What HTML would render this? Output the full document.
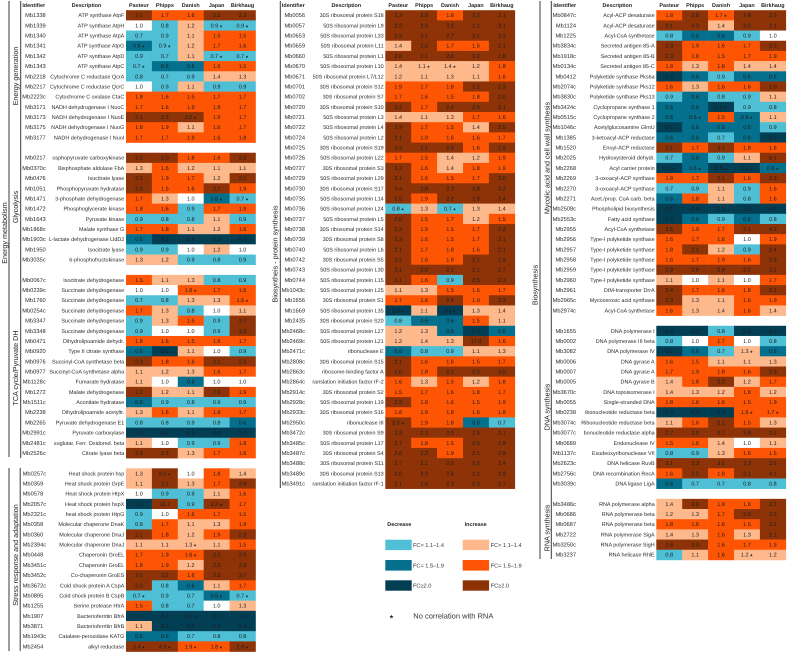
<!DOCTYPE html>
<html lang="en">
<head>
<meta charset="utf-8">
<title>Proteomic fold-change heatmap</title>
<style>
html,body{margin:0;padding:0;background:#fff;width:787px;height:653px;overflow:hidden}
svg{display:block;font-family:"Liberation Sans","DejaVu Sans",sans-serif;text-rendering:geometricPrecision}
.lbl{font-size:5.7px;fill:#2a2a2a}
.desc{font-size:5.45px;fill:#2a2a2a}
.val{font-size:5.5px;fill:#1c1c1c;text-anchor:middle}
.hdr{font-size:5.4px;font-weight:bold;fill:#222;text-anchor:middle}
.grp{font-size:7.2px;fill:#222;text-anchor:middle}
.leg{font-size:5.6px;fill:#333}
</style>
</head>
<body>
<svg id="chart" width="787" height="653" viewBox="0 0 787 653" xmlns="http://www.w3.org/2000/svg">
  <g stroke="#3a3a3a" stroke-width="1" fill="none">
    <line x1="9" y1="1" x2="9" y2="457"/>
    <line x1="20.7" y1="1" x2="20.7" y2="458"/>
    <line x1="9" y1="468" x2="9" y2="651"/>
    <line x1="20.2" y1="468" x2="20.2" y2="651"/>
    <line x1="280.3" y1="1" x2="280.3" y2="488"/>
    <line x1="540" y1="1" x2="540" y2="559"/>
    <line x1="551.3" y1="1" x2="551.3" y2="559"/>
  </g>
  <g>
    <text class="grp" transform="translate(18,76) rotate(-90)">Energy generation</text>
    <text class="grp" transform="translate(7,233) rotate(-90)">Energy metabolism</text>
    <text class="grp" transform="translate(18,207) rotate(-90)">Glycolysis</text>
    <text class="grp" transform="translate(18,368) rotate(-90)">TCA cycle/Pyruvate DH</text>
    <text class="grp" transform="translate(18,555) rotate(-90)">Stress response and adaptation</text>
    <text class="grp" transform="translate(277.5,254) rotate(-90)">Biosyntheis - protein synthesis</text>
    <text class="grp" transform="translate(537.5,285) rotate(-90)">Biosynthesis</text>
    <text class="grp" transform="translate(549.5,158) rotate(-90)">Mycolic acid and cell wall synthesis</text>
    <text class="grp" transform="translate(549.5,407) rotate(-90)">DNA synthesis</text>
    <text class="grp" transform="translate(549.5,528) rotate(-90)">RNA synthesis</text>
  </g>
  <g id="panels"></g>
  <g>
    <text class="hdr" style="text-anchor:start" x="387.3" y="526">Decrease</text>
    <text class="hdr" style="text-anchor:start" x="464.7" y="526">Increase</text>
    <rect x="385.3" y="539.7" width="26.4" height="10.4" fill="#4fbfd5"/>
    <rect x="385.3" y="560" width="26.4" height="10.6" fill="#05708e"/>
    <rect x="385.3" y="580.3" width="26.4" height="10.4" fill="#023f55"/>
    <rect x="462.7" y="539.7" width="26.4" height="10.4" fill="#fdb88c"/>
    <rect x="462.7" y="560" width="26.4" height="10.6" fill="#fe5504"/>
    <rect x="462.7" y="580.3" width="26.4" height="10.4" fill="#8e3307"/>
    <text class="leg" x="413" y="546.9">FC= 1.1–1.4</text>
    <text class="leg" x="413" y="567.3">FC= 1.5–1.9</text>
    <text class="leg" x="413" y="587.5">FC≥2.0</text>
    <text class="leg" x="490.7" y="546.9">FC= 1.1–1.4</text>
    <text class="leg" x="490.7" y="567.3">FC= 1.5–1.9</text>
    <text class="leg" x="490.7" y="587.5">FC≥2.0</text>
    <text x="389" y="618.5" font-size="5.5" fill="#222">★</text>
    <text x="413.3" y="618.5" font-size="7.5" fill="#333">No correlation with RNA</text>
  </g>
</svg>
<script>
const strainLabels = ["Pasteur", "Phipps", "Danish", "Japan", "Birkhaug"];

const panel1Ids = ["Mb1338","Mb1339","Mb1340","Mb1341","Mb1342","Mb1343","Mb2218","Mb2217","Mb2223c","Mb3171","Mb3173","Mb3175","Mb3177",null,
"Mb0217","Mb0370c","Mb0476","Mb1051","Mb1471","Mb1472","Mb1643","Mb1868c","Mb1903c","Mb1950","Mb3035c",null,
"Mb0067c","Mb0239c","Mb1760","Mb0254c","Mb3347","Mb3348","Mb0471","Mb0920","Mb0976","Mb0977","Mb1128c","Mb1272","Mb1511c","Mb2238","Mb2265","Mb2991c","Mb2481c","Mb2526c",null,
"Mb0257c","Mb0359","Mb0578","Mb2057c","Mb2321c","Mb0358","Mb0360","Mb2394c","Mb0448","Mb3451c","Mb3452c","Mb3672c","Mb0895","Mb1255","Mb1907","Mb3871","Mb1943c","Mb2454"];
const panel1Descriptions = ["ATP synthase AtpF","ATP synthase AtpH","ATP synthase AtpA","ATP synthase AtpG","ATP synthase AtpD","ATP synthase AtpC","Cytochrome C reductase QcrA","Cytochrome C reductase QcrC","Cytochrome C oxidase CtaC","NADH dehydrogenase I NuoC","NADH dehydrogenase I NuoE","NADH dehydrogenase I NuoG","NADH dehydrogenase I NuoI",null,
"osphopyruvate carboxykinase","Bisphosphate aldolase FbA","Isocitrate lyase","Phosphopyruvate hydratase","3-phosphate dehydrogenase","Phosphoglycerate kinase","Pyruvate kinase","Malate synthase G","L-lactate dehydrogenase LldD2","Isocitrate lyase","6-phosphofructokinase",null,
"Isocitrate dehydrogenase","Succinate dehydrogenase","Succinate dehydrogenase","Succinate dehydrogenase","Succinate dehydrogenase","Succinate dehydrogenase","Dihydrolipoamide dehydr.","Type II citrate synthase","Succinyl-CoA synthetase beta","Succinyl-CoA synthetase alpha","Fumarate hydratase","Malate dehydrogenase","Aconitate hydratase","Dihydrolipoamide acetyltr.","Pyruvate dehydrogenase E1","Pyruvate carboxylase","xoglutar. Ferr. Oxidored. beta","Citrate lyase beta",null,
"Heat shock protein hsp","Heat shock protein GrpE","Heat shock protein HtpX","Heat shock protein hspX","heat shock protein HtpG","Molecular chaperone DnaK","Molecular chaperone DnaJ","Molecular chaperone DnaJ","Chaperonin GroEL","Chaperonin GroEL","Co-chaperonin GroES","Cold shock protein A CspA","Cold shock protein B CspB","Serine protease HtrA","Bacterioferritin BfrA","Bacterioferritin BfrB","Catalase-peroxidase KATG","alkyl reductase"];
const panel1Values = [
[2.1,1.7,1.6,2.5,2.3],[1.0,0.8,1.2,0.9,0.9],[0.7,0.9,1.1,1.5,1.5],[0.6,0.9,1.2,1.7,1.6],[0.9,0.7,1.1,0.7,0.7],[0.7,0.6,0.6,1.6,1.5],[0.8,0.7,0.9,1.4,1.3],[1.0,0.9,1.1,0.9,0.9],[1.8,1.6,1.5,1.7,1.7],[1.7,1.6,1.9,1.8,1.7],[2.1,2.3,2.0,1.9,1.7],[1.8,1.9,1.1,1.6,1.7],[1.7,1.7,1.9,1.6,1.8],null,
[3.2,2.0,1.8,1.6,2.3],[1.3,1.6,1.2,1.1,1.1],[2.1,1.9,1.7,1.2,2.1],[2.0,1.5,1.6,2.1,1.9],[1.7,1.3,1.0,0.6,0.7],[1.8,1.6,0.9,1.7,1.9],[0.9,0.8,0.8,1.1,0.9],[1.7,1.8,1.1,1.2,1.6],[0.6,0.3,0.4,0.3,0.4],[0.9,0.9,1.0,1.2,1.0],[1.3,1.2,0.9,0.8,0.9],null,
[1.5,1.1,1.3,0.8,0.9],[1.0,1.0,1.6,1.7,1.6],[0.7,0.8,1.3,1.3,1.6],[1.7,1.3,0.8,1.0,1.1],[0.9,1.3,1.5,0.9,3.7],[0.9,1.0,1.0,0.9,3.2],[1.8,1.6,1.5,1.6,1.7],[0.6,0.5,1.1,1.0,0.9],[2.3,1.8,1.6,2.1,2.3],[1.1,1.2,1.3,1.6,1.7],[1.1,1.0,0.6,1.0,1.0],[2.2,1.2,1.1,2.5,1.9],[0.6,0.9,0.8,0.9,0.9],[1.3,1.6,1.1,1.8,1.7],[0.8,0.8,0.9,0.8,0.6],[0.5,0.3,0.5,0.4,0.4],[1.1,1.0,0.9,0.9,1.8],[2.3,2.3,1.3,1.7,1.6],null,
[1.3,9.2,1.0,1.8,1.4],[1.1,2.2,1.3,1.7,2.9],[1.0,0.9,0.9,1.1,1.6],[0.5,15.7,0.9,2.2,1.7],[0.9,1.0,1.6,1.7,1.5],[0.8,1.7,1.1,1.3,1.9],[2.1,1.8,1.2,1.9,2.3],[1.1,1.1,1.3,1.1,1.5],[1.7,1.9,1.6,2.3,2.5],[1.8,1.9,1.2,2.3,2.9],[2.2,3.2,1.6,2.3,3.7],[2.0,0.8,0.6,1.1,1.7],[0.7,0.9,0.7,0.6,0.7],[1.5,0.8,0.7,1.0,1.3],[0.5,0.4,0.5,0.5,0.4],[1.1,0.5,0.5,0.4,0.4],[0.6,0.6,0.7,0.8,0.8],[3.4,4.3,1.9,1.8,2.9]];
const panel1Stars = ["Mb1339:3","Mb1339:4","Mb1341:0","Mb1341:1","Mb1342:3","Mb1342:4","Mb1343:0","Mb3173:2","Mb1471:3","Mb1471:4","Mb0239c:2","Mb1760:4","Mb0257c:1","Mb2057c:3","Mb2394c:2","Mb0448:2","Mb0895:0","Mb0895:3","Mb0895:4","Mb1907:2","Mb2454:0","Mb2454:1","Mb2454:2","Mb2454:3","Mb2454:4"];

const panel2Ids = ["Mb0056","Mb0057","Mb0653","Mb0659","Mb0660","Mb0670","Mb0671","Mb0701","Mb0702","Mb0720","Mb0721","Mb0722","Mb0724","Mb0725","Mb0726","Mb0727","Mb0729","Mb0730","Mb0735","Mb0736","Mb0737","Mb0738","Mb0739","Mb0740","Mb0742","Mb0743","Mb0744","Mb1043c","Mb1656","Mb1669","Mb2435","Mb2468c","Mb2469c","Mb2471c","Mb2808c","Mb2863c","Mb2864c","Mb2914c","Mb2928c","Mb2933c","Mb2950c","Mb3472c","Mb3485c","Mb3487c","Mb3488c","Mb3489c","Mb3491c"];
const panel2Descriptions = ["30S ribosomal protein S18","50S ribosomal protein L9","50S ribosomal protein L33","50S ribosomal protein L11","50S ribosomal protein L1","50S ribosomal protein L10","50S ribosomal protein L7/L12","30S ribosomal protein S12","30S ribosomal protein S7","30S ribosomal protein S10","50S ribosomal protein L3","50S ribosomal protein L4","50S ribosomal protein L2","30S ribosomal protein S19","50S ribosomal protein L22","30S ribosomal protein S3","50S ribosomal protein L29","30S ribosomal protein S17","50S ribosomal protein L14","50S ribosomal protein L24","50S ribosomal protein L5","30S ribosomal protein S14","30S ribosomal protein S8","50S ribosomal protein L6","30S ribosomal protein S5","50S ribosomal protein L30","50S ribosomal protein L15","50S ribosomal protein L25","30S ribosomal protein S1","50S ribosomal protein L35","30S ribosomal protein S20","50S ribosomal protein L27","50S ribosomal protein L21","ribonuclease E","30S ribosomal protein S15","ribosome-binding factor A","ranslation initiation factor IF-2","30S ribosomal protein S2","50S ribosomal protein L19","30S ribosomal protein S16","ribonuclease III","30S ribosomal protein S9","50S ribosomal protein L17","30S ribosomal protein S4","30S ribosomal protein S11","30S ribosomal protein S13","ranslation initiation factor IF-1"];
const panel2Values = [
[2.3,2.0,1.8,2.2,2.1],[2.2,2.0,2.3,2.1,3.1],[2.9,3.1,2.7,3.1,3.3],[1.4,2.5,1.7,1.5,2.1],[2.8,2.1,2.0,2.2,2.8],[1.4,1.1,1.4,1.2,1.8],[1.2,1.1,1.3,1.1,1.6],[1.9,1.7,1.8,2.1,2.3],[1.7,1.6,1.5,1.8,2.0],[3.2,1.7,2.4,2.9,3.1],[1.4,1.1,1.3,1.7,1.6],[2.9,1.7,1.5,1.4,2.5],[2.1,1.9,1.6,1.6,1.7],[2.4,2.1,2.0,1.6,2.5],[1.7,1.5,1.4,1.2,1.9],
[2.3,1.6,1.4,1.8,1.9],[2.1,1.6,1.5,1.7,3.0],[3.4,2.8,2.3,2.8,3.2],[2.5,1.9,2.2,2.9,2.4],[0.8,1.3,0.7,1.3,1.4],[2.0,1.5,1.7,1.2,1.5],[2.3,1.9,1.5,1.7,2.2],[2.3,1.6,1.5,1.7,2.1],[2.1,1.7,1.8,1.6,2.1],[3.2,1.6,1.8,2.1,2.9],[3.1,2.0,2.1,2.1,2.7],[3.1,1.6,0.9,2.5,2.3],[1.1,1.3,1.5,1.6,1.7],[1.7,1.6,2.5,1.9,3.3],[0.5,1.1,0.4,1.3,1.4],[0.8,0.6,0.6,1.5,1.1],
[1.2,1.3,0.6,0.5,0.6],[1.2,1.4,1.3,17.0,1.6],[0.6,0.8,0.9,1.1,1.3],[2.1,1.6,1.6,1.5,1.7],[2.0,1.8,2.2,2.0,3.0],[1.6,1.3,1.5,1.2,1.8],[1.5,1.7,1.6,1.8,1.7],[2.3,1.8,1.6,1.5,1.9],[1.6,1.9,1.8,1.6,1.8],[2.5,1.9,1.8,0.6,0.7],[2.3,2.3,2.0,2.5,3.1],[2.7,1.8,1.5,2.0,2.9],[2.6,2.2,1.9,2.1,2.9],[2.7,2.1,2.0,2.0,2.4],[2.0,3.2,2.6,2.1,2.9],[2.1,2.6,2.3,2.3,2.7]];
const panel2Stars = ["Mb0670:1","Mb0670:2","Mb0736:0","Mb0736:2","Mb1669:0","Mb1669:2","Mb2950c:0"];

const panel3Ids = ["Mb0847c","Mb1124","Mb1225","Mb3834c","Mb1918c","Mb0134c","Mb0412","Mb2074c","Mb3830c","Mb3424c","Mb0515c","Mb1046c","Mb1385","Mb1520","Mb2025","Mb2268","Mb2269","Mb2270","Mb2271","Mb2508c","Mb2553c","Mb2955","Mb2956","Mb2957","Mb2958","Mb2959","Mb2960","Mb2961","Mb2965c","Mb2974c",null,
"Mb1655","Mb0002","Mb3082","Mb0006","Mb0007","Mb0005","Mb3670c","Mb0055","Mb0238","Mb3074c","Mb3077c","Mb0689","Mb1137c","Mb2623c","Mb2756c","Mb3039c",null,
"Mb3486c","Mb0686","Mb0687","Mb2722","Mb3250c","Mb3237"];
const panel3Descriptions = ["Acyl-ACP desaturase","Acyl-ACP desaturase","Acyl-CoA synthetase","Secreted antigen 85-A","Secreted antigen 85-B","Secreted antigen 85-C","Polyketide synthase Pks6a","Polyketide synthase Pks12","Polyketide synthase Pks13","Cyclopropane synthase 1","Cyclopropane synthase 2","Acetylglucosamine GlmU","3-ketoacyl-ACP reductase","Enoyl-ACP reductase","Hydroxysteroid dehydr.","Acyl carrier protein","3-oxoacyl-ACP synthase","3-oxoacyl-ACP synthase","Acet./prop. CoA carb. beta","Phospholipid biosynthesis","Fatty acid synthase","Acyl-CoA synthetase","Type-I polyketide synthase","Type-I polyketide synthase","Type-I polyketide synthase","Type-I polyketide synthase","Type-I polyketide synthase","DIM-transporter DrrA","Mycocerosic acid synthase","Acyl-CoA synthetase",null,
"DNA polymerase I","DNA polymerase III beta","DNA polymerase IV","DNA gyrase A","DNA gyrase A","DNA gyrase B","DNA topoisomerase I","Single-stranded DNA","ibonucleotide reductase  beta","Ribonucleotide reductase beta","bonucleotide reductase  alpha","Endonuclease IV","Exodeoxyribonuclease VII","DNA helicase RuvB","DNA recombination RecA","DNA ligase LigA",null,
"RNA polymerase alpha","RNA polymerase beta","RNA polymerase beta","RNA polymerase SigA","RNA polymerase SigH","RNA helicase RhlE"];
const panel3Values = [
[1.8,2.8,1.7,2.8,2.3],[2.1,4.3,1.4,3.5,2.1],[0.8,0.6,0.6,0.9,1.0],[2.3,1.9,1.6,1.7,2.3],[2.3,1.8,1.5,1.7,1.9],[1.9,1.3,1.8,1.4,1.4],[0.5,0.6,0.9,0.6,0.6],[1.6,1.3,1.6,1.6,2.0],[0.9,0.6,0.8,0.9,1.1],[0.6,0.6,0.4,0.9,0.8],[0.6,0.6,1.5,0.6,1.1],[0.5,0.6,0.6,0.6,0.9],[0.6,0.6,0.7,0.6,0.5],[2.1,1.7,3.1,1.8,1.6],[0.7,0.6,0.9,1.1,6.1],
[0.5,0.6,0.5,0.5,0.6],[1.9,1.7,2.1,1.6,2.3],[0.7,0.9,1.1,0.9,1.6],[0.6,1.8,1.1,0.8,1.6],[0.5,0.4,0.5,0.5,0.4],[0.5,0.6,0.9,0.6,0.8],[3.5,1.9,1.7,2.1,4.3],[1.6,1.7,1.6,1.0,1.9],[1.8,2.1,1.2,0.9,2.4],[1.6,1.7,1.9,1.6,2.8],[2.9,2.6,2.8,2.2,2.2],[1.1,1.0,1.1,1.0,1.7],[2.4,1.7,1.6,1.8,2.1],[2.3,1.3,1.1,1.6,1.9],[1.6,1.3,1.4,1.6,1.4],null,
[0.4,0.3,0.8,0.3,0.4],[0.8,1.0,1.7,1.0,0.8],[0.5,0.6,0.7,1.3,0.6],[1.6,1.5,1.1,1.1,1.3],[1.7,1.9,1.8,1.6,2.9],[1.4,1.8,2.3,1.2,1.7],[1.4,1.3,1.2,1.6,1.2],[1.8,1.6,1.6,1.5,1.9],[0.3,0.4,0.3,1.6,1.7],[1.1,1.6,2.1,1.5,1.3],[2.7,3.0,3.7,2.8,2.3],[1.5,1.6,1.4,1.0,1.1],[0.8,0.9,1.3,1.6,1.5],[3.1,3.3,3.5,3.3,3.6],[1.6,2.2,1.8,2.1,4.1],[0.6,0.7,0.7,0.8,0.8],null,
[1.4,2.0,1.9,1.6,2.3],[1.2,1.3,1.7,2.0,2.5],[1.8,1.6,1.6,1.5,2.2],[1.4,1.3,1.6,1.3,2.1],[2.6,2.3,1.6,1.7,1.9],[0.8,1.1,1.6,1.2,1.2]];
const panel3Stars = ["Mb0847c:2","Mb3424c:2","Mb0515c:1","Mb0515c:3","Mb2268:0","Mb2268:1","Mb2268:2","Mb2268:3","Mb2268:4","Mb3082:3","Mb0238:3","Mb0238:4","Mb3237:3"];

const SVGNS = "http://www.w3.org/2000/svg";
const root = document.getElementById("panels");

function rowY(row) { return 10.2 + row * 10.18; }
function colorFor(v) {
  if (v >= 2.0) return "#8e3307";
  if (v >= 1.5) return "#fe5504";
  if (v > 1.0) return "#fdb88c";
  if (v === 1.0) return "#ffffff";
  if (v > 0.6) return "#4fbfd5";
  if (v > 0.5) return "#05708e";
  return "#023f55";
}
function addText(parent, cls, x, y, str, anchor) {
  const t = document.createElementNS(SVGNS, "text");
  t.setAttribute("class", cls);
  t.setAttribute("x", x);
  t.setAttribute("y", y);
  if (anchor) t.setAttribute("text-anchor", anchor);
  t.textContent = str;
  parent.appendChild(t);
  return t;
}
function drawPanel(p) {
  const g = document.createElementNS(SVGNS, "g");
  
  
  root.appendChild(g);
  const cellW = 25.9;
  const colX = function (c) { return p.cellX + c * cellW; };

  const hi = addText(g, "hdr", p.idHeadX, 7, "Identifier");
  
  
  const hd = addText(g, "hdr", p.descHeadX, 7, "Description");
  
  
  strainLabels.forEach(function (s, c) {
    const h = addText(g, "hdr", colX(c) + cellW / 2, 7, s);
    
    
  });

  p.ids.forEach(function (id, r) {
    if (id === null) return;
    const y = rowY(r);
    const leftAligned = p.idLeftFromRow !== undefined && r >= p.idLeftFromRow;
    const idText = addText(g, "lbl", leftAligned ? p.idLeftX : p.idRightX, y + 7, id, leftAligned ? "start" : "end");
    
    
    const dText = addText(g, "desc", p.descRightX, y + 7, p.descriptions[r], "end");
    
    
    p.values[r].forEach(function (v, c) {
      const rect = document.createElementNS(SVGNS, "rect");
      
      
      rect.setAttribute("x", colX(c));
      rect.setAttribute("y", y);
      rect.setAttribute("width", cellW + 0.3);
      rect.setAttribute("height", 10.48);
      rect.setAttribute("fill", colorFor(v));
      g.appendChild(rect);
      const vt = addText(g, "val", colX(c) + cellW / 2, y + 7, v.toFixed(1));
      
      
      if (p.stars.indexOf(id + ":" + c) >= 0) {
        const st = document.createElementNS(SVGNS, "tspan");
        st.setAttribute("font-size", "3.8");
        st.textContent = " ★";
        vt.appendChild(st);
      }
    });
  });
}
drawPanel({name:"energy-stress-panel",ids:panel1Ids,descriptions:panel1Descriptions,values:panel1Values,stars:panel1Stars,cellX:126,idRightX:45.7,idLeftX:22.7,idLeftFromRow:45,descRightX:124.3,idHeadX:33.7,descHeadX:86.5});
drawPanel({name:"protein-synthesis-panel",ids:panel2Ids,descriptions:panel2Descriptions,values:panel2Values,stars:panel2Stars,cellX:385.3,idRightX:305,descRightX:383.7,idHeadX:293.3,descHeadX:346.3});
drawPanel({name:"biosynthesis-panel",ids:panel3Ids,descriptions:panel3Descriptions,values:panel3Values,stars:panel3Stars,cellX:656.3,idRightX:576,descRightX:654.7,idHeadX:564.7,descHeadX:617.3});
</script>
</body>
</html>
